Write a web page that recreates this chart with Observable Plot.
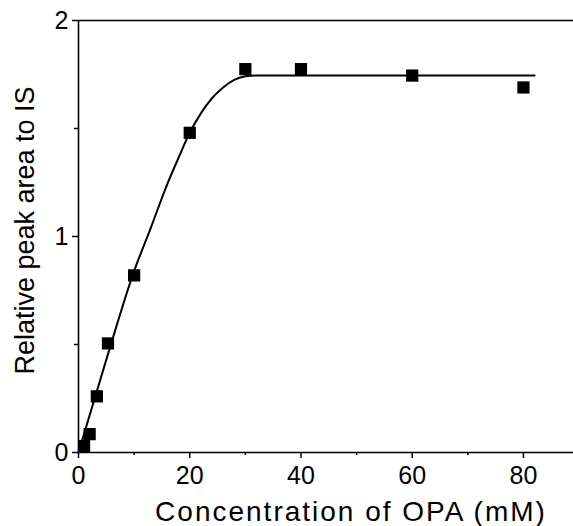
<!DOCTYPE html>
<html>
<head>
<meta charset="utf-8">
<script src="https://cdn.jsdelivr.net/npm/d3@7"></script>
<script src="https://cdn.jsdelivr.net/npm/@observablehq/plot@0.6"></script>
<style>
  html, body { margin: 0; padding: 0; background: #fff; }
  #chart svg { display: block; }
</style>
</head>
<body>
<div id="chart"></div>
<script>
// Measured points: OPA concentration (mM) vs. relative peak area to IS
const concentration = [1, 2, 3.3, 5.3, 10, 20, 30, 40, 60, 80];
const relativeArea = [0.03, 0.085, 0.26, 0.505, 0.82, 1.48, 1.775, 1.775, 1.745, 1.69];

// Fitted curve drawn through the points
const fitConcentration = [0, 5, 10, 13, 16, 18, 20, 22, 24, 26, 28, 30, 32, 82];
const fitArea = [0, 0.43, 0.84, 1.04, 1.245, 1.365, 1.48, 1.57, 1.64, 1.69, 1.725, 1.742, 1.745, 1.745];

// Axis ticks
const xMajorTicks = [0, 20, 40, 60, 80];
const xMinorTicks = [10, 30, 50, 70];
const yMajorTicks = [0, 1, 2];
const yMinorTicks = [0.5, 1.5];

const points = concentration.map((c, i) => ({c, a: relativeArea[i]}));
const fit = fitConcentration.map((c, i) => ({c, a: fitArea[i]}));

const font = "'Liberation Sans', Arial, Helvetica, sans-serif";

const chart = Plot.plot({
  width: 573,
  height: 526,
  marginLeft: 78,
  marginRight: 0,
  marginTop: 20,
  marginBottom: 74,
  style: {fontFamily: font, color: "#000", background: "#fff"},
  x: {domain: [0, 89]},
  y: {domain: [0, 2]},
  marks: [
    // frame lines: bottom, left and top
    Plot.ruleY([0], {stroke: "#000", strokeWidth: 1.6}),
    Plot.ruleY([2], {stroke: "#000", strokeWidth: 1.6}),
    Plot.ruleX([0], {stroke: "#000", strokeWidth: 1.6}),
    Plot.axisX({ticks: xMajorTicks, tickSize: 6, tickPadding: 8, strokeWidth: 1.5,
      fontSize: 25, label: null, tickFormat: d => d}),
    Plot.axisX({ticks: xMinorTicks, tickSize: 3, strokeWidth: 1.5, text: null, label: null}),
    Plot.axisY({ticks: yMajorTicks, tickSize: 6, tickPadding: 4, strokeWidth: 1.5,
      fontSize: 25, label: null, tickFormat: d => d}),
    Plot.axisY({ticks: yMinorTicks, tickSize: 4, strokeWidth: 1.5, text: null, label: null}),
    Plot.text(["Concentration of OPA (mM)"], {
      frameAnchor: "bottom", dx: 25, dy: 60, textAnchor: "middle", lineAnchor: "middle",
      fontSize: 28, fill: "#000", className: "x-title"
    }),
    Plot.text(["Relative peak area to IS"], {
      frameAnchor: "left", dx: -53, dy: -6, rotate: -90, textAnchor: "middle", lineAnchor: "middle",
      fontSize: 27, fill: "#000"
    }),
    Plot.line(fit, {x: "c", y: "a", curve: "monotone-x", stroke: "#000", strokeWidth: 2}),
    Plot.dot(points, {x: "c", y: "a", symbol: "square", r: 6.9, fill: "#000", stroke: "none"})
  ]
});

// the x-axis title is set with slightly loose tracking
d3.select(chart).selectAll(".x-title text").attr("letter-spacing", 2);

document.getElementById("chart").append(chart);
</script>
</body>
</html>
